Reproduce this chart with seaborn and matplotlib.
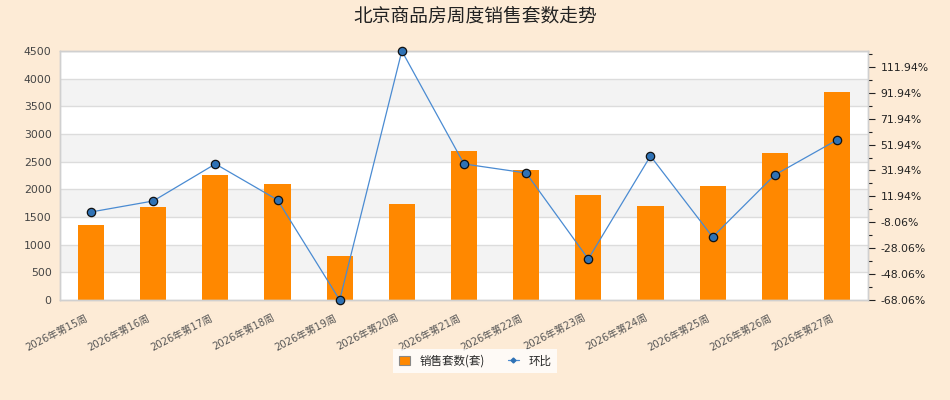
import numpy as np
import pandas as pd
import seaborn as sns
import matplotlib
matplotlib.use("Agg")
import matplotlib.pyplot as plt
import matplotlib.transforms as mtransforms
from matplotlib.lines import Line2D
from matplotlib.patches import Patch
from matplotlib.ticker import FixedLocator

weeks = ['2026年第15周', '2026年第16周', '2026年第17周', '2026年第18周', '2026年第19周',
         '2026年第20周', '2026年第21周', '2026年第22周', '2026年第23周', '2026年第24周',
         '2026年第25周', '2026年第26周', '2026年第27周']
sales = [1355, 1681, 2259, 2096, 795, 1735, 2693, 2349, 1897, 1699, 2060, 2656, 3759]
mom = [-0.1, 8.4, 37.0, 9.2, -68.06, 124.2, 37.0, 30.0, -36.4, 43.1, -19.4, 28.5, 55.5]
left_ticks = [0, 500, 1000, 1500, 2000, 2500, 3000, 3500, 4000, 4500]
right_tick_labels = ['-68.06%', '-48.06%', '-28.06%', '-8.06%', '11.94%', '31.94%',
                     '51.94%', '71.94%', '91.94%', '111.94%']
right_ticks = [-68.06, -48.06, -28.06, -8.06, 11.94, 31.94, 51.94, 71.94, 91.94, 111.94]
title = '北京商品房周度销售套数走势'
bar_name = '销售套数(套)'
line_name = '环比'

df = pd.DataFrame({'week': weeks, 'sales': sales, 'mom': mom, 'idx': np.arange(len(weeks))})

sns.set_theme(style='white')
plt.rcParams['font.family'] = ['DejaVu Sans', 'Noto Sans CJK SC']

BG = '#FDEBD6'
fig = plt.figure(figsize=(9.5, 4), dpi=100, facecolor=BG)
ax = fig.add_axes([60/950, 100/400, 808/950, 249/400])
ax.set_facecolor('white')

# alternating bands + grid
for i in range(len(left_ticks) - 1):
    if i % 2 == 1:
        ax.axhspan(left_ticks[i], left_ticks[i+1], color='#F3F3F3', zorder=0, lw=0)
for t in left_ticks[1:]:
    ax.axhline(t, color='#DCDCDC', lw=1, zorder=0.5)

sns.barplot(data=df, x='week', y='sales', ax=ax, color='#FF8800', width=0.42,
            saturation=1, zorder=2, linewidth=0, edgecolor='none')
ax.set_xlim(-0.5, len(weeks) - 0.5)
ax.set_ylim(0, 4500)
ax.yaxis.set_major_locator(FixedLocator(left_ticks))
ax.set_xlabel('')
ax.set_ylabel('')
ax.tick_params(axis='y', length=0, labelsize=7.8, labelcolor='#444', pad=6)
ax.tick_params(axis='x', length=0, labelsize=7.2, labelcolor='#555', pad=9)
offset = mtransforms.ScaledTranslation(-6/100, 0, fig.dpi_scale_trans)
for lab in ax.get_xticklabels():
    lab.set_rotation(27)
    lab.set_ha('right')
    lab.set_rotation_mode('anchor')
    lab.set_transform(lab.get_transform() + offset)
for s in ax.spines.values():
    s.set_color('#D0D0D0')
    s.set_linewidth(1)

ax2 = ax.twinx()
sns.lineplot(data=df, x='idx', y='mom', ax=ax2, color='#4A8BD2', lw=0.9,
             marker='o', markersize=6, markerfacecolor='#2F72B5',
             markeredgecolor='#111', markeredgewidth=0.9, zorder=5, clip_on=False)
ax2.set_ylim(min(mom), max(mom))
ax2.set_xlim(-0.5, len(weeks) - 0.5)
ax2.yaxis.set_major_locator(FixedLocator(right_ticks))
ax2.set_yticklabels(right_tick_labels)
minor = [t + 10 for t in right_ticks]
ax2.yaxis.set_minor_locator(FixedLocator(minor))
ax2.tick_params(axis='y', which='major', length=5, width=0.8, color='#222',
                labelsize=7.8, labelcolor='#222', pad=4, direction='out')
ax2.tick_params(axis='y', which='minor', length=3, width=0.8, color='#222', direction='out')
ax2.set_ylabel('')
ax2.set_xlabel('')
for s in ax2.spines.values():
    s.set_color('#D0D0D0')
    s.set_linewidth(1)

fig.text(0.5, 1 - 16/400, title, ha='center', va='center', fontsize=13.5, color='#222',
         family=['Noto Sans CJK SC', 'DejaVu Sans'], weight='medium')

handles = [Patch(facecolor='#FF8800', edgecolor='#888', lw=0.8),
           Line2D([0], [0], color='#4A8BD2', lw=0.9, marker='D', markersize=2.5,
                  markerfacecolor='#2F72B5', markeredgecolor='#2F72B5')]
leg = fig.legend(handles, [bar_name, line_name], loc='center',
                 bbox_to_anchor=(475/950, 1 - 361/400), ncol=2, frameon=True,
                 fancybox=False, facecolor='white', edgecolor='white',
                 handlelength=1.0, handleheight=0.8, columnspacing=2.0, borderpad=0.5,
                 prop={'family': ['Noto Sans CJK SC', 'DejaVu Sans'], 'size': 8.3})
leg.get_frame().set_linewidth(0)

fig.savefig('out.png', dpi=100, facecolor=BG)
